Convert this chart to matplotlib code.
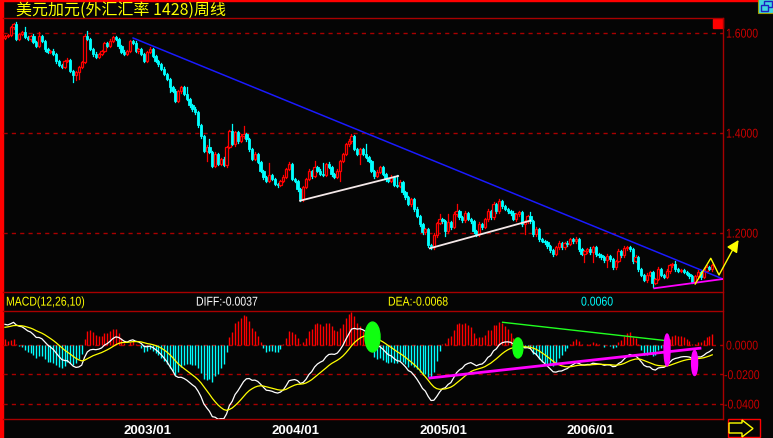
import numpy as np
import matplotlib
matplotlib.use("Agg")
import matplotlib.pyplot as plt
import matplotlib.transforms as mtransforms
from matplotlib.patches import Rectangle, Ellipse, Polygon, PathPatch
from matplotlib.textpath import TextPath
from matplotlib.font_manager import FontProperties

title = "美元加元(外汇汇率 1428)周线"

# weekly closes (open of a week = previous close)
first_open = 1.590
close = [
    1.594, 1.596, 1.612, 1.618, 1.588, 1.598, 1.602, 1.592, 1.588, 1.594,
    1.582, 1.574, 1.594, 1.584, 1.568, 1.562, 1.564, 1.558, 1.544, 1.536,
    1.532, 1.544, 1.546, 1.524, 1.516, 1.522, 1.532, 1.542, 1.594, 1.588,
    1.568, 1.558, 1.552, 1.558, 1.564, 1.580, 1.574, 1.584, 1.592, 1.588,
    1.574, 1.562, 1.558, 1.564, 1.584, 1.580, 1.564, 1.568, 1.558, 1.544,
    1.562, 1.568, 1.554, 1.544, 1.538, 1.528, 1.518, 1.508, 1.492, 1.484,
    1.464, 1.484, 1.492, 1.478, 1.468, 1.456, 1.448, 1.442, 1.416, 1.394,
    1.364, 1.372, 1.362, 1.334, 1.358, 1.338, 1.348, 1.336, 1.372, 1.404,
    1.378, 1.402, 1.384, 1.394, 1.398, 1.388, 1.368, 1.348, 1.358, 1.342,
    1.324, 1.312, 1.304, 1.316, 1.308, 1.298, 1.296, 1.304, 1.312, 1.328,
    1.338, 1.308, 1.304, 1.288, 1.268, 1.292, 1.308, 1.324, 1.314, 1.332,
    1.324, 1.318, 1.316, 1.338, 1.332, 1.318, 1.312, 1.324, 1.344, 1.358,
    1.378, 1.384, 1.394, 1.368, 1.358, 1.368, 1.358, 1.352, 1.344, 1.324,
    1.314, 1.322, 1.332, 1.318, 1.308, 1.304, 1.312, 1.296, 1.294, 1.302,
    1.282, 1.272, 1.258, 1.268, 1.248, 1.234, 1.218, 1.202, 1.208, 1.176,
    1.172, 1.196, 1.220, 1.228, 1.224, 1.204, 1.222, 1.212, 1.238, 1.244,
    1.232, 1.226, 1.240, 1.228, 1.224, 1.204, 1.198, 1.218, 1.212, 1.228,
    1.244, 1.232, 1.258, 1.244, 1.264, 1.254, 1.248, 1.244, 1.240, 1.228,
    1.238, 1.242, 1.218, 1.224, 1.234, 1.224, 1.198, 1.208, 1.188, 1.184,
    1.182, 1.174, 1.166, 1.158, 1.172, 1.180, 1.172, 1.180, 1.178, 1.188,
    1.184, 1.188, 1.168, 1.158, 1.164, 1.168, 1.162, 1.172, 1.158, 1.156,
    1.152, 1.146, 1.154, 1.148, 1.132, 1.144, 1.164, 1.156, 1.170, 1.172,
    1.168, 1.144, 1.152, 1.128, 1.116, 1.106, 1.116, 1.122, 1.100, 1.108,
    1.128, 1.116, 1.112, 1.124, 1.136, 1.138, 1.128, 1.124, 1.126, 1.122,
    1.118, 1.114, 1.102, 1.114, 1.122, 1.112, 1.124, 1.132, 1.128, 1.136,
]

# shadows above / below the body, in 0.001
wick_up = [
    3, 2, 3, 2, 4, 3, 2, 10, 3, 2, 4, 3, 8, 2, 3, 3, 2, 4, 2, 3, 3, 2, 5, 3, 2,
    2, 3, 3, 4, 10, 3, 2, 4, 2, 3, 2, 3, 4, 2, 3, 3, 2, 4, 3, 2, 3, 4, 2, 3, 2,
    3, 4, 2, 3, 3, 2, 4, 3, 2, 3, 4, 3, 2, 3, 14, 3, 2, 4, 3, 3, 2, 4, 16, 3, 4,
    3, 2, 4, 3, 3, 14, 3, 2, 4, 16, 3, 2, 3, 4, 3, 2, 3, 3, 24, 3, 2, 3, 2, 4, 3,
    4, 3, 2, 3, 2, 3, 3, 4, 3, 12, 3, 4, 22, 3, 4, 3, 2, 4, 3, 3, 2, 4, 4, 3, 3,
    3, 3, 20, 2, 3, 3, 4, 3, 3, 2, 3, 4, 3, 20, 4, 3, 2, 3, 3, 3, 4, 2, 3, 3, 2,
    3, 4, 3, 10, 3, 3, 16, 3, 4, 14, 3, 2, 4, 3, 3, 2, 3, 4, 3, 3, 4, 3, 4, 3, 4,
    3, 3, 2, 3, 4, 3, 3, 2, 3, 3, 8, 3, 4, 3, 2, 3, 3, 2, 3, 3, 4, 3, 3, 4, 3,
    3, 4, 3, 2, 3, 3, 4, 3, 2, 3, 3, 2, 4, 3, 2, 3, 4, 3, 4, 3, 3, 2, 4, 3, 2,
    3, 4, 3, 2, 3, 4, 3, 3, 4, 3, 2, 6, 3, 3, 2, 3, 3, 2, 3, 4, 3, 3, 4, 3, 3,
]
wick_dn = [
    3, 2, 3, 4, 2, 3, 3, 2, 3, 4, 3, 2, 3, 3, 4, 2, 3, 3, 4, 2, 3, 3, 2, 3, 14,
    10, 14, 3, 2, 3, 2, 4, 3, 2, 3, 3, 2, 3, 3, 2, 4, 3, 2, 3, 3, 2, 3, 4, 3, 3,
    3, 2, 3, 3, 4, 3, 2, 3, 10, 3, 2, 3, 4, 3, 2, 3, 3, 4, 3, 3, 2, 20, 3, 3, 2,
    3, 3, 2, 4, 3, 2, 3, 3, 2, 3, 3, 4, 3, 2, 3, 3, 4, 3, 2, 3, 3, 4, 3, 2, 3,
    2, 3, 3, 4, 3, 3, 2, 3, 4, 3, 3, 2, 3, 3, 2, 4, 3, 3, 20, 3, 2, 3, 3, 3, 2,
    20, 3, 2, 3, 3, 4, 2, 3, 3, 4, 3, 2, 3, 3, 3, 4, 3, 2, 3, 3, 2, 3, 4, 3, 4,
    4, 3, 3, 2, 3, 10, 3, 3, 2, 3, 4, 3, 3, 2, 3, 3, 4, 3, 3, 2, 3, 3, 3, 4, 3,
    3, 2, 3, 3, 2, 4, 3, 3, 20, 3, 3, 4, 3, 3, 2, 3, 3, 4, 3, 2, 3, 3, 4, 3, 2,
    3, 3, 3, 2, 16, 3, 4, 20, 3, 3, 4, 3, 14, 3, 4, 3, 2, 3, 3, 4, 3, 3, 2, 4, 3,
    3, 4, 3, 8, 3, 2, 3, 3, 2, 4, 3, 3, 3, 2, 3, 3, 4, 3, 3, 2, 4, 3, 3, 2, 3,
]

year_ticks = [53, 105, 157, 209]
year_labels = ["2003/01", "2004/01", "2005/01", "2006/01"]
price_ticks = [1.6, 1.4, 1.2]
price_labels = ["1.6000", "1.4000", "1.2000"]
macd_ticks = [0.0, -0.02, -0.04]
macd_labels = ["0.0000", "-0.0200", "-0.0400"]
macd_name = "MACD(12,26,10)"
diff_text = "DIFF:-0.0037"
dea_text = "DEA:-0.0068"
macd_text = "0.0060"

# EMA state before the first bar (offsets from first close / DEA value)
seed_e12 = -0.006
seed_e26 = -0.020
seed_dea = 0.012

# drawn-in lines (bar index, value)
blue_x, blue_y = [45.1, 252.8], [1.590, 1.108]
white1_x, white1_y = [103.9, 138.4], [1.2646, 1.314]
white2_x, white2_y = [149.6, 184.9], [1.1694, 1.2246]
pink_x, pink_y = [228.6, 252.8], [1.0894, 1.108]
zig_x, zig_y = [243.0, 248.5, 251.4, 257.0], [1.098, 1.1494, 1.116, 1.1746]
zig_tip = (258.3, 1.186)
green_x, green_y = [175.2, 233.0], [0.0154, 0.0029]
mpink_x, mpink_y = [149.6, 244.7], [-0.0224, -0.0022]
green_marks = [(129.4, 0.0054, 5.3, 0.0203), (180.6, -0.0020, 3.5, 0.0136)]
pink_marks = [(233.1, -0.0034, 2.1, 0.0217), (242.8, -0.0122, 2.1, 0.017)]

RED = "#ff0000"
DARK = "#a80000"
CYAN = "#00ffff"
YEL = "#ffff00"
LBL = "#c80000"

c = np.array(close)
n = len(c)
o = np.concatenate([[first_open], c[:-1]])
hi = np.maximum(o, c) + np.array(wick_up) / 1000.0
lo = np.minimum(o, c) - np.array(wick_dn) / 1000.0
x = np.arange(n)

# MACD 12,26,10
e12 = np.zeros(n)
e26 = np.zeros(n)
dea = np.zeros(n)
e12[0] = c[0] + seed_e12
e26[0] = c[0] + seed_e26
for k in range(1, n):
    e12[k] = e12[k - 1] + 2 / 13 * (c[k] - e12[k - 1])
    e26[k] = e26[k - 1] + 2 / 27 * (c[k] - e26[k - 1])
diff = e12 - e26
dea[0] = seed_dea
for k in range(1, n):
    dea[k] = dea[k - 1] + 2 / 11 * (diff[k] - dea[k - 1])
macd = 2 * (diff - dea)

W, H = 773, 439
fig = plt.figure(figsize=(W / 100, H / 100), dpi=100, facecolor="#050505")
bg = fig.add_axes([0, 0, 1, 1])
bg.set_xlim(0, W)
bg.set_ylim(H, 0)
bg.axis("off")


def panel(l, t, r, b):
    a = fig.add_axes([l / W, 1 - b / H, (r - l) / W, (b - t) / H])
    a.axis("off")
    a.set_xlim(-0.7, 252.8)
    return a


ax = panel(3, 19, 723, 293)
ax.set_ylim(1.082, 1.630)
mx = panel(3, 312, 723, 420)
mx.set_ylim(-0.0502, 0.02305)

narrow_font = FontProperties(family=["Liberation Sans", "DejaVu Sans"])


def squeezed(xpix, ypix, s, color, size=12.8, sx=0.82):
    # narrow label: left edge xpix, vertical middle ypix (image pixels, y down)
    tp = TextPath((0, 0), s, size=size, prop=narrow_font)
    tr = mtransforms.Affine2D().scale(sx, 1).translate(xpix, H - ypix - 0.36 * size)
    fig.add_artist(PathPatch(tp, transform=tr, facecolor=color, edgecolor="none"))


def row_of(a, v):
    return H - a.transData.transform((0, v))[1]


# frame
bg.add_patch(Rectangle((0, 0), 3, H, color=RED))
bg.add_patch(Rectangle((0, 0), 758, 2, color=RED))
for yy in [19, 293, 312, 420]:
    bg.plot([3, 723], [yy, yy], color=DARK, lw=1)
bg.plot([723, 723], [19, 420], color=DARK, lw=1)
bg.add_patch(Rectangle((713, 20), 10, 9, color=RED))
# small icons at the corners
bg.add_patch(Rectangle((758, 0), 15, 14, facecolor="#40d8e0", edgecolor="#a0a000", lw=0.8))
bg.add_patch(Rectangle((764, 2), 8, 6, facecolor="none", edgecolor="#2020c0", lw=1))
bg.add_patch(Rectangle((761, 6), 7, 6, facecolor="#40d8e0", edgecolor="#2020c0", lw=1))
bg.add_patch(Rectangle((728, 420), 32, 18, facecolor="none", edgecolor=RED, lw=1))
bg.add_patch(Polygon([(729, 424), (742, 424), (742, 421), (753, 429.5),
                      (742, 438), (742, 434), (729, 434)],
                     closed=True, facecolor="none", edgecolor=YEL, lw=1))

bg.text(16, 10, title, color=YEL, fontsize=11.5, va="center", ha="left",
        family=["Noto Sans CJK SC", "DejaVu Sans"])

# grid
for p in price_ticks:
    ax.axhline(p, color=DARK, lw=1, dashes=(3, 3))
for p in macd_ticks:
    mx.axhline(p, color=DARK, lw=1, dashes=(3, 3), zorder=0)

# right labels
for p, s in zip(price_ticks, price_labels):
    squeezed(726, row_of(ax, p), s, LBL)
for p, s in zip(macd_ticks, macd_labels):
    squeezed(726 if p == 0 else 724, row_of(mx, p), s, LBL)

# candles
for i in range(n):
    if c[i] > o[i]:
        col = RED
    elif c[i] < o[i]:
        col = CYAN
    else:
        col = "#ffffff"
    ax.plot([x[i], x[i]], [lo[i], hi[i]], color=col, lw=0.9, zorder=2)
    b0 = min(o[i], c[i])
    bh = max(abs(c[i] - o[i]), 0.0008)
    if c[i] > o[i]:
        ax.add_patch(Rectangle((x[i] - 0.4, b0), 0.8, bh, facecolor="#050505",
                               edgecolor=RED, lw=0.9, zorder=3))
    else:
        ax.add_patch(Rectangle((x[i] - 0.4, b0), 0.8, bh, facecolor=col,
                               edgecolor=col, lw=0.6, zorder=3))

ax.plot(blue_x, blue_y, color="#1a1aff", lw=1.1, zorder=4)
ax.plot(white1_x, white1_y, color="#f4e8e8", lw=1.3, zorder=4)
ax.plot(white2_x, white2_y, color="#f4e8e8", lw=1.3, zorder=4)
ax.plot(pink_x, pink_y, color="#ff00ff", lw=1.3, zorder=4)
ax.plot(zig_x, zig_y, color=YEL, lw=1, zorder=5, clip_on=False)
ax.annotate("", xy=zig_tip, xytext=(zig_x[-1], zig_y[-1]), annotation_clip=False,
            arrowprops=dict(arrowstyle="-|>", color=YEL, lw=1, mutation_scale=18,
                            shrinkA=0, shrinkB=0), zorder=5)

# MACD panel
hcol = [RED if v >= 0 else CYAN for v in macd]
mx.vlines(x, 0, macd, colors=hcol, lw=1, zorder=1)
mx.plot(x, diff, color="#ffffff", lw=0.9, zorder=3)
mx.plot(x, dea, color=YEL, lw=0.9, zorder=3)
mx.plot(green_x, green_y, color="#20ff20", lw=1, zorder=4)
mx.plot(mpink_x, mpink_y, color="#ff00ff", lw=2, zorder=4)
for cx, cy, w, h in green_marks:
    mx.add_patch(Ellipse((cx, cy), w, h, color="#10ff10", zorder=6))
for cx, cy, w, h in pink_marks:
    mx.add_patch(Ellipse((cx, cy), w, h, color="#ff00ff", zorder=6))

squeezed(6, 302, macd_name, YEL)
squeezed(196, 302, diff_text, "#ffffff")
squeezed(388, 302, dea_text, YEL)
squeezed(581, 302, macd_text, CYAN)

# year labels under the MACD panel
dx = mtransforms.blended_transform_factory(mx.transData, bg.transData)
for t, s in zip(year_ticks, year_labels):
    mx.text(t - 2.8, 431, s, transform=dx, color="#ffffff", fontsize=9.5,
            fontweight="bold", ha="center", va="center",
            family=["Liberation Sans", "DejaVu Sans"], clip_on=False)

fig.savefig("out.png", dpi=100, facecolor=fig.get_facecolor())
